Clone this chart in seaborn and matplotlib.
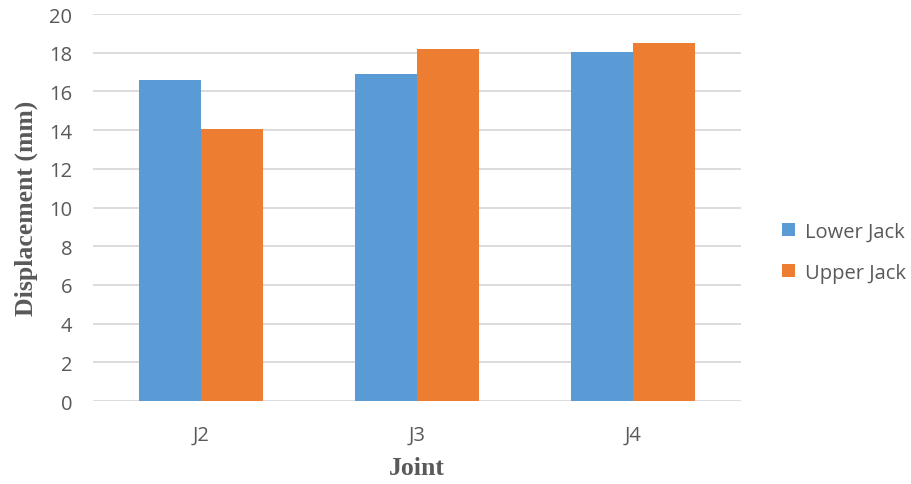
import matplotlib
matplotlib.use("Agg")
import matplotlib.pyplot as plt
import seaborn as sns
import pandas as pd

joints = ["J2", "J3", "J4"]
lower_jack = [16.6, 16.9, 18.05]
upper_jack = [14.05, 18.2, 18.5]
series_names = ["Lower Jack", "Upper Jack"]
y_ticks = list(range(0, 21, 2))

df = pd.DataFrame({
    "Joint": joints * 2,
    "Displacement": lower_jack + upper_jack,
    "Series": [series_names[0]] * 3 + [series_names[1]] * 3,
})

sns.set_theme(style="white")
plt.rcParams["font.family"] = ["Open Sans", "DejaVu Sans"]

fig = plt.figure(figsize=(9.12, 4.85), dpi=100)
ax = fig.add_axes([0.102, 0.171, 0.711, 0.798])

sns.barplot(data=df, x="Joint", y="Displacement", hue="Series",
            palette=["#5B9BD5", "#ED7D31"], width=0.574, ax=ax,
            saturation=1, edgecolor="none", zorder=3)

ax.set_ylim(0, 20)
ax.set_xlim(-0.5, 2.5)
ax.set_yticks(y_ticks)
ax.yaxis.grid(True, color="#D9D9D9", linewidth=1.3, zorder=0)
ax.set_axisbelow(True)
for s in ax.spines.values():
    s.set_visible(False)
ax.tick_params(axis="both", length=0, labelsize=14.5, colors="#595959")
ax.tick_params(axis="y", pad=15)
ax.tick_params(axis="x", pad=17)

ax.set_xlabel("Joint", family="Liberation Serif", fontweight="bold",
              fontsize=18.5, color="#595959", labelpad=8)
ax.set_ylabel("Displacement (mm)", family="Liberation Serif", fontweight="bold",
              fontsize=18.5, color="#595959", labelpad=8)

leg = ax.legend(loc="center left", bbox_to_anchor=(1.035, 0.385), frameon=False,
                fontsize=14.5, labelspacing=1.05, handlelength=0.65, handleheight=0.65,
                handletextpad=0.5)
for t in leg.get_texts():
    t.set_color("#595959")

fig.savefig("out.png", dpi=100)
